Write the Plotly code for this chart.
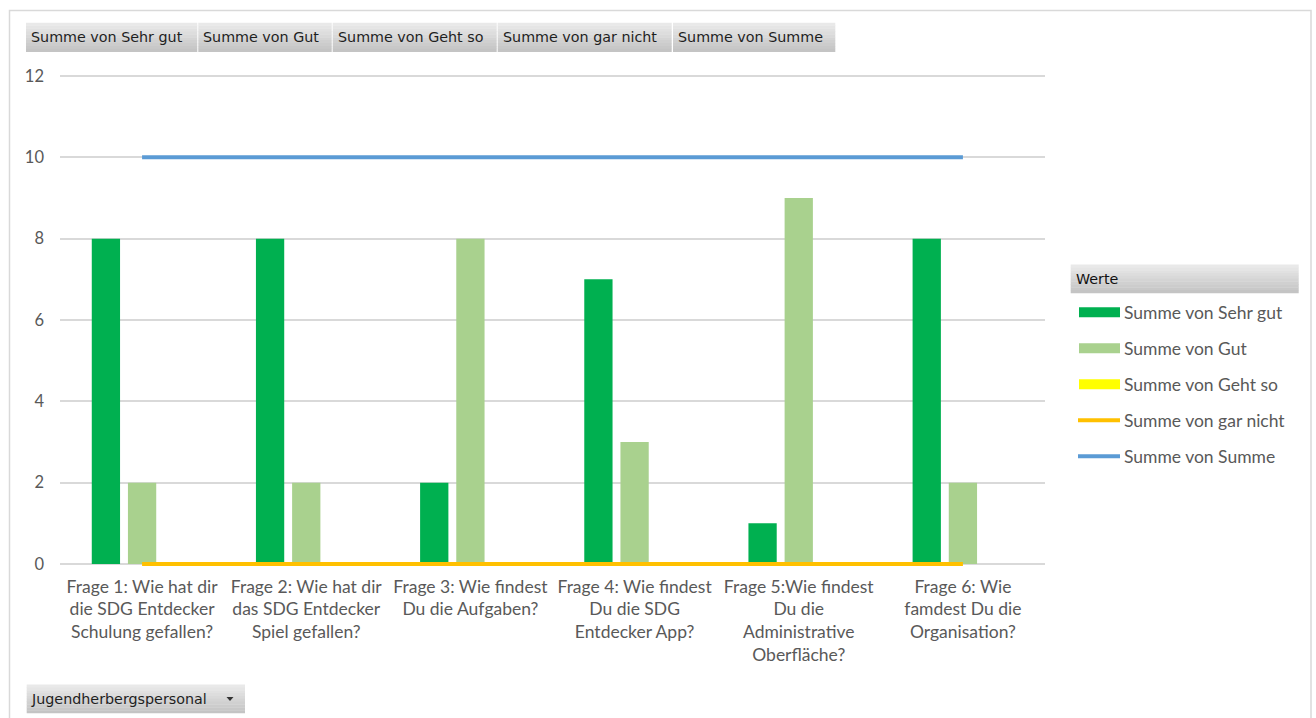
import plotly.graph_objects as go

# ---- data -------------------------------------------------------------
categories = [
    "Frage 1: Wie hat dir<br>die SDG Entdecker<br>Schulung gefallen?",
    "Frage 2: Wie hat dir<br>das SDG Entdecker<br>Spiel gefallen?",
    "Frage 3: Wie findest<br>Du die Aufgaben?",
    "Frage 4: Wie findest<br>Du die SDG<br>Entdecker App?",
    "Frage 5:Wie findest<br>Du die<br>Administrative<br>Oberfläche?",
    "Frage 6: Wie<br>famdest Du die<br>Organisation?",
]
series_names = [
    "Summe von Sehr gut",
    "Summe von Gut",
    "Summe von Geht so",
    "Summe von gar nicht",
    "Summe von Summe",
]
sehr_gut = [8, 8, 2, 7, 1, 8]
gut = [2, 2, 8, 3, 9, 2]
geht_so = [0, 0, 0, 0, 0, 0]
gar_nicht = [0, 0, 0, 0, 0, 0]
summe = [10, 10, 10, 10, 10, 10]
y_ticks = [0, 2, 4, 6, 8, 10, 12]
filter_label = "Jugendherbergspersonal"
legend_title = "Werte"

# ---- styling ----------------------------------------------------------
colors = ["#00B050", "#A9D18E", "#FFFF00", "#FFC000", "#5B9BD5"]
kinds = ["bar", "bar", "bar", "line", "line"]
FAMILY = "Lato, 'Open Sans', sans-serif"
AXIS_FONT = dict(family=FAMILY, size=17.5, color="#595959")
YTICK_FONT = dict(family=FAMILY, size=16.5, color="#595959")
BTN_FONT = dict(family="'DejaVu Sans', Verdana, sans-serif", size=14.3, color="#1F1F1F")

W, H = 1316, 718
L, T, PW, PH = 60, 74, 985, 491.6


def px(x):
    return (x - L) / PW


def py(y):
    return (T + PH - y) / PH


fig = go.Figure()
bar_values = [sehr_gut, gut, geht_so]
for name, vals, col in zip(series_names[:3], bar_values, colors[:3]):
    fig.add_trace(go.Bar(x=categories, y=vals, name=name, marker_color=col,
                         marker_line_width=0, showlegend=False))
line_values = [gar_nicht, summe]
for name, vals, col in zip(series_names[3:], line_values, colors[3:]):
    fig.add_trace(go.Scatter(x=categories, y=vals, name=name, mode="lines",
                             line=dict(color=col, width=4), showlegend=False))

shapes = []
annotations = []


def blend(c1, c2, t):
    a = [int(c1[i:i + 2], 16) for i in (1, 3, 5)]
    b = [int(c2[i:i + 2], 16) for i in (1, 3, 5)]
    return "#%02X%02X%02X" % tuple(round(a[k] + (b[k] - a[k]) * t) for k in range(3))


def gray_box(x0, y0, x1, y1, top="#E9E9E9", bottom="#C4C4C4", bands=10):
    h = (y1 - y0) / bands
    for i in range(bands):
        shapes.append(dict(type="rect", xref="paper", yref="paper",
                           x0=px(x0), x1=px(x1), y0=py(y0 + i * h), y1=py(y0 + (i + 1) * h + 0.3),
                           fillcolor=blend(top, bottom, i / (bands - 1)),
                           line_width=0, layer="below"))


# outer chart frame
shapes.append(dict(type="rect", xref="paper", yref="paper",
                   x0=px(9.5), x1=px(1311), y0=py(10.5), y1=py(730),
                   line=dict(color="#D9D9D9", width=1.5), fillcolor="rgba(0,0,0,0)"))

# pivot field buttons along the top
button_edges = [(26, 197.3), (198.3, 331.7), (332.7, 496.7), (497.7, 671.7), (673, 835.3)]
for (x0, x1), label in zip(button_edges, series_names):
    gray_box(x0, 22.7, x1, 51.7)
    annotations.append(dict(text=label, xref="paper", yref="paper", x=px(x0 + 3), y=py(37.5),
                            xanchor="left", yanchor="middle", showarrow=False, font=BTN_FONT))

# report filter dropdown at the bottom
gray_box(26.7, 684, 245, 712.5)
annotations.append(dict(text=filter_label, xref="paper", yref="paper", x=px(29), y=py(698.5),
                        xanchor="left", yanchor="middle", showarrow=False, font=BTN_FONT))
shapes.append(dict(type="path", xref="paper", yref="paper",
                   path="M %f %f L %f %f L %f %f Z" % (px(226.5), py(696.5), px(233.5), py(696.5),
                                                       px(230), py(700.5)),
                   fillcolor="#333333", line_width=0))

# legend box
gray_box(1070.7, 264.3, 1298.7, 292.7)
annotations.append(dict(text=legend_title, xref="paper", yref="paper", x=px(1074), y=py(279),
                        xanchor="left", yanchor="middle", showarrow=False,
                        font=dict(family=BTN_FONT["family"], size=14.3, color="#111111")))
for i, (name, col, kind) in enumerate(zip(series_names, colors, kinds)):
    yc = 312 + 36 * i
    if kind == "bar":
        shapes.append(dict(type="rect", xref="paper", yref="paper",
                           x0=px(1079), x1=px(1120), y0=py(yc - 5), y1=py(yc + 5),
                           fillcolor=col, line_width=0))
    else:
        shapes.append(dict(type="line", xref="paper", yref="paper",
                           x0=px(1078), x1=px(1120), y0=py(yc), y1=py(yc),
                           line=dict(color=col, width=4)))
    annotations.append(dict(text=name, xref="paper", yref="paper", x=px(1122), y=py(yc),
                            xanchor="left", yanchor="middle", showarrow=False,
                            font=dict(family=FAMILY, size=17.5, color="#595959")))

fig.update_layout(
    width=W, height=H,
    margin=dict(l=L, r=W - L - PW, t=T, b=H - T - PH, pad=0),
    paper_bgcolor="white", plot_bgcolor="white",
    barmode="group", bargap=0.339, bargroupgap=0.218,
    shapes=shapes, annotations=annotations,
    font=AXIS_FONT,
)
fig.update_xaxes(showgrid=False, zeroline=False, showline=False, ticks="",
                 tickfont=AXIS_FONT, ticklabelstandoff=8, tickangle=0)
fig.update_yaxes(range=[-0.05, 12.05], tickvals=y_ticks, showgrid=True,
                 gridcolor="#D9D9D9", gridwidth=1.5, zeroline=False, showline=False,
                 ticks="", tickfont=YTICK_FONT, ticklabelstandoff=15)

fig.write_html("out.html")
